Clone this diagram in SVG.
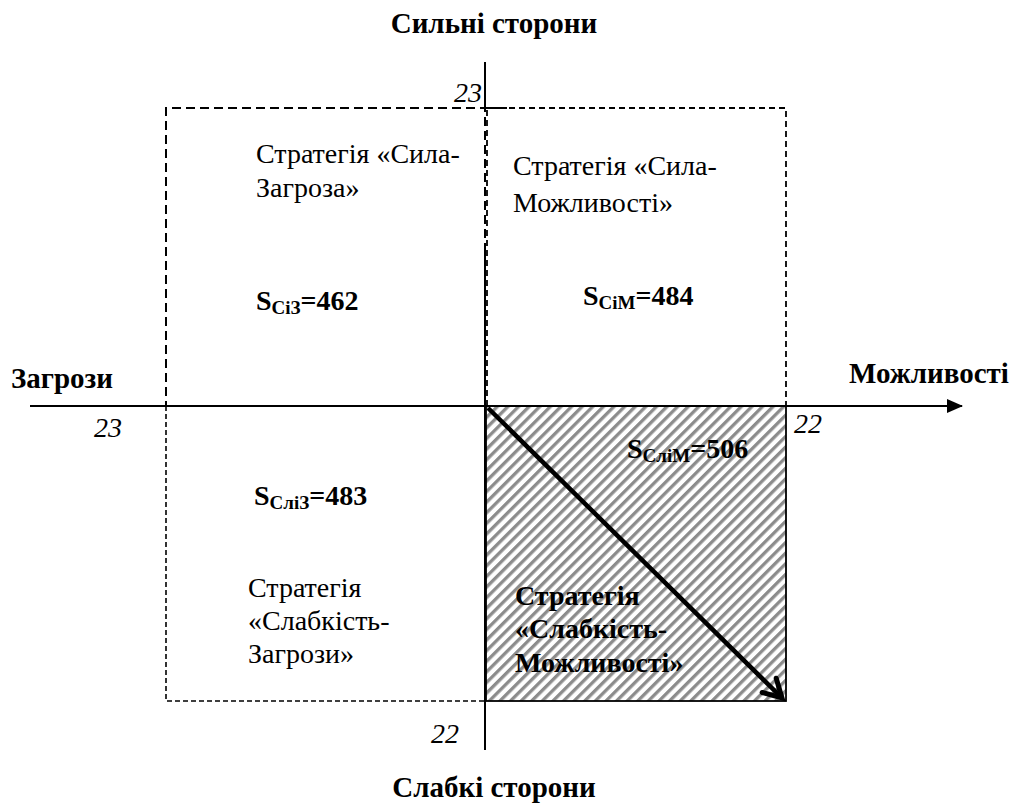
<svg xmlns="http://www.w3.org/2000/svg" width="1015" height="805" viewBox="0 0 1015 805" font-family="'Liberation Serif', Tinos, 'Times New Roman', serif">
  <style>
    text { font-family: "Liberation Serif", Tinos, "Times New Roman", serif; fill: #000; }
    .axis-label { font-size: 29px; font-weight: bold; }
    .body { font-size: 28px; }
    .bold { font-weight: bold; }
    .num { font-size: 28px; font-style: italic; }
    .sub { font-size: 19px; }
    .dash-long { fill: none; stroke: #000; stroke-width: 2; stroke-dasharray: 9 5; }
    .dash-mid { fill: none; stroke: #000; stroke-width: 1.8; stroke-dasharray: 6 4; }
    .dash-short { fill: none; stroke: #000; stroke-width: 1.6; stroke-dasharray: 5 3; }
    .axis { stroke: #000; stroke-width: 2; fill: none; }
  </style>
  <defs>
    <pattern id="hatch" width="7.5" height="7.5" patternUnits="userSpaceOnUse" patternTransform="rotate(45)">
      <rect width="7.5" height="7.5" fill="#fff"/>
      <rect x="0" y="0" width="3.3" height="7.5" fill="#8c8c8c"/>
    </pattern>
    <marker id="tri" markerWidth="16" markerHeight="14" refX="15" refY="7" orient="auto" markerUnits="userSpaceOnUse">
      <path d="M0,0 L16,7 L0,14 Z" fill="#000"/>
    </marker>
    <marker id="vee" markerWidth="28" markerHeight="28" refX="23" refY="14" orient="auto" markerUnits="userSpaceOnUse">
      <path d="M5,4 L23,14 L5,24" fill="none" stroke="#000" stroke-width="5" stroke-linecap="round" stroke-linejoin="miter"/>
    </marker>
  </defs>

  <!-- quadrant: weakness / opportunities (hatched) -->
  <g id="quad-wo">
    <rect x="486" y="406" width="300" height="295" fill="url(#hatch)" stroke="#000" stroke-width="1.8"/>
    <text class="body bold" x="627" y="458">S<tspan class="sub" dy="4">СліМ</tspan><tspan dy="-4">=506</tspan></text>
    <text class="body bold" x="515" y="605">Стратегія</text>
    <text class="body bold" x="515" y="638">«Слабкість-</text>
    <text class="body bold" x="515" y="672">Можливості»</text>
  </g>

  <!-- quadrant: strength / threats -->
  <g id="quad-st">
    <path class="dash-long" d="M485,406 V108 H166 V406"/>
    <text class="body" x="256" y="163">Стратегія «Сила-</text>
    <text class="body" x="256" y="197">Загроза»</text>
    <text class="body bold" x="256" y="310">S<tspan class="sub" dy="4">СіЗ</tspan><tspan dy="-4">=462</tspan></text>
  </g>

  <!-- quadrant: strength / opportunities -->
  <g id="quad-so">
    <path class="dash-mid" d="M487,406 V108 H786 V406"/>
    <text class="body" x="513" y="175">Стратегія «Сила-</text>
    <text class="body" x="513" y="212">Можливості»</text>
    <text class="body bold" x="583" y="305">S<tspan class="sub" dy="4">СіМ</tspan><tspan dy="-4">=484</tspan></text>
  </g>

  <!-- quadrant: weakness / threats -->
  <g id="quad-wt">
    <path class="dash-short" d="M166,406 V701 H485"/>
    <text class="body bold" x="254" y="505">S<tspan class="sub" dy="4">СліЗ</tspan><tspan dy="-4">=483</tspan></text>
    <text class="body" x="248" y="597">Стратегія</text>
    <text class="body" x="248" y="630">«Слабкість-</text>
    <text class="body" x="248" y="663">Загрози»</text>
  </g>

  <!-- axes and the diagonal arrow -->
  <g id="connectors">
    <line class="axis" x1="485" y1="62" x2="485" y2="109"/>
    <line class="axis" x1="485" y1="250" x2="485" y2="750"/>
    <line class="axis" x1="485" y1="108" x2="507" y2="108" stroke-width="1.5"/>
    <line class="axis" x1="30" y1="406" x2="962" y2="406" marker-end="url(#tri)"/>
    <line x1="488" y1="408" x2="782" y2="698" stroke="#000" stroke-width="4.5" marker-end="url(#vee)"/>
  </g>

  <!-- axis titles -->
  <g id="axis-labels">
    <text class="axis-label" x="494" y="33" text-anchor="middle">Сильні сторони</text>
    <text class="axis-label" x="494" y="797" text-anchor="middle">Слабкі сторони</text>
    <text class="axis-label" x="11" y="388">Загрози</text>
    <text class="axis-label" x="849" y="383">Можливості</text>
  </g>

  <!-- scale values -->
  <g id="scale">
    <text class="num" x="482" y="102" text-anchor="end">23</text>
    <text class="num" x="122" y="437" text-anchor="end">23</text>
    <text class="num" x="794" y="433">22</text>
    <text class="num" x="459" y="743" text-anchor="end">22</text>
  </g>
</svg>
